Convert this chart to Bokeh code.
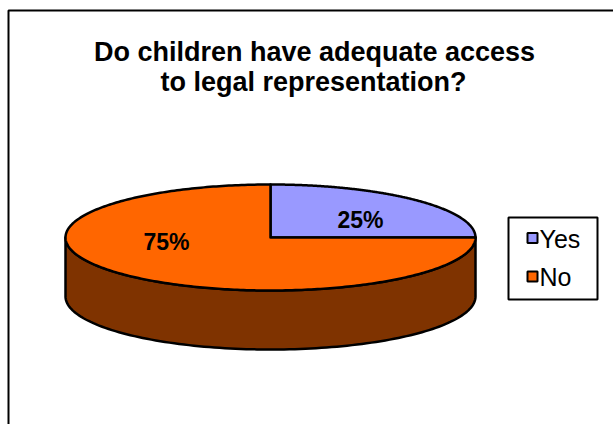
import numpy as np
from bokeh.plotting import figure
from bokeh.models import Range1d
from bokeh.core.properties import value
from bokeh.embed import file_html
from bokeh.resources import INLINE

# ---- data ----
categories = ["Yes", "No"]
shares = [25, 75]
labels = ["25%", "75%"]
title_lines = ["Do children have adequate access", "to legal representation?"]

# ---- styles / layout ----
top_colors = ["#9999FF", "#FF6600"]
side_colors = ["#4C4C80", "#7F3300"]
W, H = 613, 424
cx, cy, rx, ry, depth = 270, 237, 205, 53, 59
label_xy = [(360, 219), (166, 241)]
FONT = value("Liberation Sans")

p = figure(width=W, height=H, output_backend="svg", toolbar_location=None,
           x_range=Range1d(0, W), y_range=Range1d(H, 0), min_border=0)
p.axis.visible = False
p.grid.visible = False
p.outline_line_color = None
p.background_fill_color = "white"
p.border_fill_color = "white"

# chart frame
p.quad(left=[8], right=[W + 10], top=[10], bottom=[H + 10],
       fill_color=None, line_color="black", line_width=2)

def ell(theta, dz=0.0):
    return cx + rx * np.cos(theta), cy - ry * np.sin(theta) + dz

# slice angles (start at 12 o'clock, clockwise)
total = float(sum(shares))
cum = np.cumsum([0] + shares) / total
starts = np.pi / 2 - 2 * np.pi * cum[:-1]
ends = np.pi / 2 - 2 * np.pi * cum[1:]

# sides (front half only: theta in [-pi, 0])
for s, e, col in zip(starts, ends, side_colors):
    lo, hi = min(s, e), max(s, e)
    for k in range(-1, 2):
        a = max(lo, -np.pi + 2 * np.pi * k)
        b = min(hi, 0 + 2 * np.pi * k)
        if b > a:
            t = np.linspace(a, b, 120)
            xt, yt = ell(t)
            xb, yb = ell(t[::-1], depth)
            p.patch(np.concatenate([xt, xb]), np.concatenate([yt, yb]),
                    fill_color=col, line_color="black", line_width=2.5,
                    line_join="round")

# top slices
for s, e, col in zip(starts, ends, top_colors):
    t = np.linspace(s, e, 300)
    xt, yt = ell(t)
    xs = np.concatenate([[cx], xt, [cx]])
    ys = np.concatenate([[cy], yt, [cy]])
    p.patch(xs, ys, fill_color=col, line_color="black", line_width=2.5,
            line_join="round")

# data labels
p.text(x=[xy[0] for xy in label_xy], y=[xy[1] for xy in label_xy], text=labels,
       text_font=FONT, text_font_style="bold", text_font_size="23px",
       text_align="center", text_baseline="middle", text_color="black")

# title
p.text(x=[314, 313], y=[51, 81], text=title_lines, text_font=FONT,
       text_font_style="bold", text_font_size="27px", text_align="center",
       text_baseline="middle", text_color="black")

# legend
p.quad(left=[508], right=[597], top=[217], bottom=[299],
       fill_color="white", line_color="black", line_width=2)
leg_y = [237.5, 276]
p.rect(x=[532, 532], y=leg_y, width=10, height=10, fill_color=top_colors,
       line_color="black", line_width=2)
p.text(x=[539, 539], y=[238, 276], text=categories, text_font=FONT,
       text_font_size="25px", text_align="left", text_baseline="middle",
       text_color="black")

open("out.html", "w").write(file_html(p, INLINE))
